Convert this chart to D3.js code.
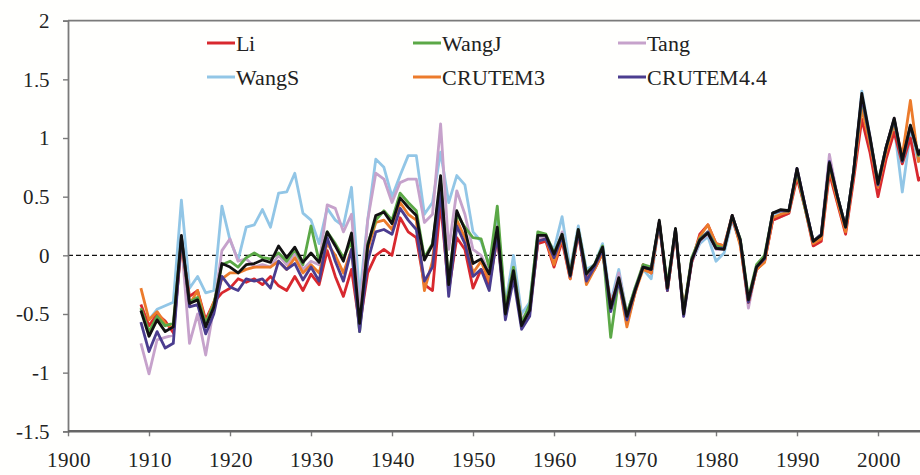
<!DOCTYPE html>
<html>
<head>
<meta charset="utf-8">
<script src="https://cdn.jsdelivr.net/npm/d3@7"></script>
<style>
  @font-face { font-family: "ChartSerif"; src: local("Liberation Serif"), local("LiberationSerif"), local("Times New Roman"); }
</style>
</head>
<body style="margin:0; background:#fffffd">
<svg id="chart" width="920" height="475" style="display:block"></svg>
<script>
// Temperature anomaly series (°C), one value per year from 1909 to 2006
const firstYear = 1909;

const li = [
  -0.42, -0.60, -0.50, -0.56, -0.66, 0.10, -0.35, -0.30, -0.55, -0.40,
  -0.32, -0.28, -0.20, -0.23, -0.20, -0.25, -0.18, -0.26, -0.30, -0.18,
  -0.30, -0.16, -0.25, 0.04, -0.18, -0.35, -0.12, -0.60, -0.15, 0.00,
  0.05, 0.00, 0.32, 0.20, 0.15, -0.25, -0.30, 0.45, -0.30, 0.15,
  0.05, -0.28, -0.12, -0.25, 0.15, -0.45, -0.15, -0.58, -0.48, 0.10,
  0.12, -0.10, 0.12, -0.20, 0.18, -0.20, -0.12, 0.02, -0.42, -0.22,
  -0.58, -0.32, -0.08, -0.15, 0.28, -0.30, 0.20, -0.48, -0.06, 0.18,
  0.26, 0.10, 0.08, 0.32, 0.10, -0.40, -0.12, -0.05, 0.30, 0.33,
  0.36, 0.66, 0.40, 0.08, 0.12, 0.70, 0.44, 0.18, 0.65, 1.16,
  0.88, 0.50, 0.82, 1.05, 0.78, 1.00, 0.64, 0.72
];

const wangJ = [
  -0.45, -0.65, -0.52, -0.60, -0.58, 0.15, -0.40, -0.36, -0.58, -0.42,
  -0.08, -0.05, -0.10, -0.02, 0.02, -0.02, -0.03, 0.02, -0.05, 0.05,
  -0.08, 0.25, -0.05, 0.20, 0.10, -0.02, 0.12, -0.65, 0.10, 0.30,
  0.38, 0.30, 0.53, 0.45, 0.38, -0.02, 0.10, 0.62, -0.22, 0.35,
  0.24, 0.15, 0.14, -0.10, 0.42, -0.45, -0.10, -0.58, -0.42, 0.20,
  0.18, 0.02, 0.18, -0.15, 0.22, -0.15, -0.08, 0.08, -0.70, -0.20,
  -0.50, -0.28, -0.08, -0.10, 0.28, -0.25, 0.22, -0.48, -0.02, 0.14,
  0.20, 0.08, 0.06, 0.33, 0.14, -0.36, -0.08, 0.00, 0.36, 0.38,
  0.38, 0.72, 0.40, 0.12, 0.18, 0.78, 0.50, 0.24, 0.72, 1.33,
  1.00, 0.62, 0.92, 1.15, 0.80, 1.10, 0.85, 0.98
];

const tang = [
  -0.75, -1.01, -0.72, -0.70, -0.68, 0.12, -0.75, -0.50, -0.85, -0.45,
  0.04, 0.14, -0.05, -0.03, -0.10, -0.08, -0.10, 0.00, -0.08, 0.02,
  -0.12, -0.05, -0.08, 0.43, 0.40, 0.20, 0.35, -0.50, 0.30, 0.70,
  0.65, 0.45, 0.62, 0.65, 0.65, 0.28, 0.35, 1.12, 0.05, 0.55,
  0.35, 0.05, 0.00, -0.15, 0.25, -0.45, -0.10, -0.55, -0.45, 0.15,
  0.15, 0.00, 0.20, -0.15, 0.22, -0.15, -0.08, 0.05, -0.45, -0.15,
  -0.50, -0.30, -0.10, -0.12, 0.28, -0.28, 0.22, -0.52, -0.06, 0.12,
  0.18, 0.05, 0.05, 0.32, 0.12, -0.45, -0.10, -0.04, 0.30, 0.33,
  0.36, 0.74, 0.42, 0.12, 0.18, 0.86, 0.50, 0.24, 0.72, 1.35,
  1.02, 0.62, 0.92, 1.17, 0.80, 1.10, 0.85, 1.00
];

const wangS = [
  -0.48, -0.55, -0.46, -0.43, -0.40, 0.47, -0.28, -0.18, -0.32, -0.30,
  0.42, 0.13, -0.04, 0.24, 0.26, 0.39, 0.24, 0.53, 0.54, 0.70,
  0.36, 0.30, 0.10, 0.40, 0.30, 0.25, 0.58, -0.35, 0.30, 0.82,
  0.75, 0.50, 0.68, 0.85, 0.85, 0.35, 0.45, 0.88, 0.45, 0.68,
  0.60, 0.20, 0.12, -0.08, 0.30, -0.42, 0.00, -0.50, -0.40, 0.18,
  0.15, 0.05, 0.33, -0.12, 0.25, -0.12, -0.08, 0.10, -0.40, -0.12,
  -0.50, -0.28, -0.12, -0.20, 0.28, -0.28, 0.22, -0.48, -0.06, 0.10,
  0.16, -0.05, 0.02, 0.30, 0.10, -0.40, -0.12, -0.04, 0.34, 0.38,
  0.38, 0.72, 0.42, 0.12, 0.16, 0.80, 0.48, 0.22, 0.70, 1.40,
  1.02, 0.60, 0.90, 1.10, 0.54, 1.05, 0.80, 0.95
];

const crutem3 = [
  -0.28, -0.55, -0.48, -0.58, -0.62, 0.12, -0.42, -0.30, -0.58, -0.40,
  -0.20, -0.15, -0.15, -0.12, -0.10, -0.10, -0.10, -0.05, -0.12, -0.02,
  -0.15, -0.08, -0.15, 0.10, 0.00, -0.15, 0.05, -0.60, 0.05, 0.28,
  0.30, 0.22, 0.45, 0.35, 0.30, -0.30, -0.05, 0.62, -0.28, 0.30,
  0.15, -0.15, -0.05, -0.22, 0.20, -0.50, -0.15, -0.58, -0.48, 0.12,
  0.14, -0.08, 0.15, -0.20, 0.20, -0.25, -0.12, 0.02, -0.45, -0.22,
  -0.61, -0.32, -0.12, -0.15, 0.27, -0.30, 0.20, -0.48, -0.04, 0.16,
  0.26, 0.10, 0.08, 0.34, 0.08, -0.40, -0.12, -0.06, 0.32, 0.35,
  0.37, 0.70, 0.40, 0.10, 0.14, 0.75, 0.46, 0.20, 0.70, 1.25,
  0.95, 0.58, 0.88, 1.12, 0.85, 1.32, 0.80, 0.90
];

const crutem44 = [
  -0.57, -0.82, -0.65, -0.79, -0.75, 0.16, -0.44, -0.42, -0.67, -0.50,
  -0.18, -0.27, -0.30, -0.20, -0.22, -0.20, -0.28, -0.05, -0.12, -0.07,
  -0.21, -0.10, -0.22, 0.15, -0.05, -0.22, 0.05, -0.65, -0.05, 0.20,
  0.22, 0.18, 0.40, 0.30, 0.22, -0.22, -0.10, 0.55, -0.35, 0.25,
  0.10, -0.18, -0.12, -0.30, 0.18, -0.55, -0.20, -0.63, -0.52, 0.12,
  0.14, -0.02, 0.16, -0.18, 0.20, -0.22, -0.10, 0.05, -0.48, -0.22,
  -0.55, -0.30, -0.10, -0.12, 0.28, -0.30, 0.22, -0.52, -0.04, 0.13,
  0.20, 0.06, 0.06, 0.34, 0.13, -0.40, -0.10, -0.03, 0.36, 0.38,
  0.38, 0.74, 0.42, 0.12, 0.18, 0.80, 0.50, 0.24, 0.72, 1.35,
  1.00, 0.60, 0.92, 1.16, 0.80, 1.10, 0.86, 1.00
];

// Multi-dataset mean (black line)
const ensembleMean = [
  -0.47, -0.69, -0.55, -0.65, -0.61, 0.17, -0.41, -0.38, -0.61, -0.44,
  -0.07, -0.10, -0.15, -0.08, -0.07, -0.04, -0.06, 0.08, -0.02, 0.07,
  -0.06, 0.02, -0.06, 0.20, 0.08, -0.05, 0.19, -0.58, 0.08, 0.34,
  0.37, 0.27, 0.49, 0.41, 0.34, -0.04, 0.09, 0.68, -0.25, 0.38,
  0.22, -0.07, -0.03, -0.16, 0.24, -0.50, -0.13, -0.60, -0.47, 0.17,
  0.17, 0.01, 0.18, -0.17, 0.22, -0.16, -0.08, 0.07, -0.45, -0.19,
  -0.52, -0.30, -0.10, -0.12, 0.30, -0.28, 0.23, -0.50, -0.04, 0.13,
  0.19, 0.06, 0.05, 0.34, 0.13, -0.38, -0.10, -0.02, 0.36, 0.39,
  0.38, 0.74, 0.42, 0.12, 0.17, 0.79, 0.50, 0.24, 0.72, 1.38,
  1.01, 0.61, 0.92, 1.17, 0.81, 1.11, 0.86, 1.00
];

const seriesNames  = ["Li", "WangJ", "Tang", "WangS", "CRUTEM3", "CRUTEM4.4"];
const seriesValues = [li, wangJ, tang, wangS, crutem3, crutem44];
const seriesColors = ["#d8282e", "#5ba846", "#c6a2cb", "#92c6e6", "#ec7b2b", "#4b3d8f"];
// back-to-front stacking of the coloured lines
const drawOrder = ["WangS", "Tang", "Li", "CRUTEM3", "WangJ", "CRUTEM4.4"];

const xTicks = d3.range(1900, 2001, 10);
const yTicks = [-1.5, -1, -0.5, 0, 0.5, 1, 1.5, 2];

const FONT_STACK = '"ChartSerif", "Liberation Serif", "Times New Roman", serif';
const styleText = size => sel => sel
  .attr("font-family", FONT_STACK)
  .style("font-family", FONT_STACK)
  .style("font-size", size)
  .style("fill", "#222");

const svg = d3.select("#chart");
const W = 920, H = 475;
const plotLeft = 68, plotTop = 20.7, plotBottom = 431.3;

const x = d3.scaleLinear().domain([1900, 2010]).range([plotLeft, plotLeft + 110 * 8.1]);
const y = d3.scaleLinear().domain([-1.5, 2]).range([plotBottom, plotTop]);

const toPoints = vals => vals.map((v, i) => ({ year: firstYear + i, v }));
const line = d3.line().x(d => x(d.year)).y(d => y(d.v));

// zero reference
svg.append("line")
  .attr("x1", plotLeft).attr("x2", W)
  .attr("y1", y(0)).attr("y2", y(0))
  .attr("stroke", "#111").attr("stroke-width", 1.2)
  .attr("stroke-dasharray", "5,3");

const plot = svg.append("g");
drawOrder.forEach(name => {
  const i = seriesNames.indexOf(name);
  plot.append("path")
    .datum(toPoints(seriesValues[i]))
    .attr("fill", "none")
    .attr("stroke", seriesColors[i])
    .attr("stroke-width", 2.8)
    .attr("stroke-linejoin", "round")
    .attr("d", line);
});
plot.append("path")
  .datum(toPoints(ensembleMean))
  .attr("fill", "none")
  .attr("stroke", "#111")
  .attr("stroke-width", 2.8)
  .attr("stroke-linejoin", "round")
  .attr("d", line);

// frame: top border
svg.append("line")
  .attr("x1", plotLeft).attr("x2", W)
  .attr("y1", plotTop).attr("y2", plotTop)
  .attr("stroke", "#7a7a7a").attr("stroke-width", 1.8);

// y axis
const yAxis = svg.append("g")
  .attr("transform", `translate(${plotLeft},0)`)
  .call(d3.axisLeft(y).tickValues(yTicks).tickSize(5).tickPadding(13)
    .tickFormat(d => String(d)));
yAxis.attr("font-family", FONT_STACK);
yAxis.select(".domain").attr("stroke", "#7a7a7a").attr("stroke-width", 1.8);
yAxis.selectAll(".tick line").attr("stroke", "#7a7a7a").attr("stroke-width", 1.4);
yAxis.selectAll("text").call(styleText("21px"));

// x axis
const xAxis = svg.append("g")
  .attr("transform", `translate(0,${plotBottom})`)
  .call(d3.axisBottom(x).tickValues(xTicks).tickSize(5).tickPadding(16)
    .tickFormat(d3.format("d")));
xAxis.attr("font-family", FONT_STACK);
xAxis.select(".domain").remove();
xAxis.append("line")
  .attr("x1", plotLeft).attr("x2", W).attr("y1", 0).attr("y2", 0)
  .attr("stroke", "#666").attr("stroke-width", 2.6);
xAxis.selectAll(".tick line").attr("stroke", "#7a7a7a").attr("stroke-width", 1.4);
xAxis.selectAll("text").call(styleText("21px"));

// legend: three columns, two rows
const legendCols = [207, 413, 618];
const legendRows = [43, 77];
const legend = svg.append("g").attr("font-family", FONT_STACK);
seriesNames.forEach((name, i) => {
  const gx = legendCols[i % 3], gy = legendRows[Math.floor(i / 3)];
  const g = legend.append("g").attr("transform", `translate(${gx},${gy})`);
  g.append("line").attr("x1", 0).attr("x2", 28).attr("y1", 0).attr("y2", 0)
    .attr("stroke", seriesColors[i]).attr("stroke-width", 3);
  g.append("text").attr("x", 29).attr("y", 0).attr("dy", "0.35em")
    .call(styleText("22px")).text(name);
});
</script>
</body>
</html>
